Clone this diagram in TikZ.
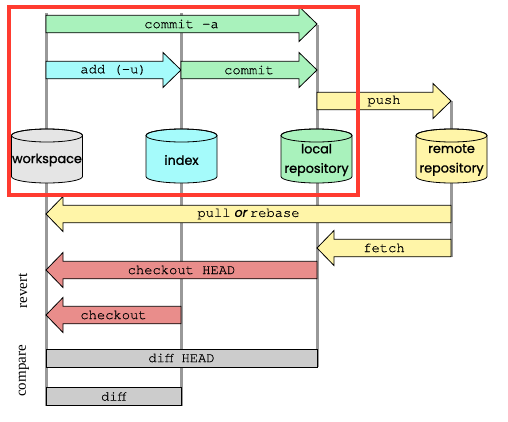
\documentclass[tikz,border=0pt]{standalone}
\usepackage{fontspec}
\setmainfont{Liberation Serif}
\setmonofont{TeX Gyre Cursor}[FakeBold=0.4]
\newfontfamily\cylfont{Poppins}[FakeBold=1.2]
\newfontfamily\orfont{Poppins}[FakeSlant=0.2, FakeBold=0.8]
\definecolor{cgreen}{HTML}{A9F2BC}
\definecolor{ccyan}{HTML}{A5FBFB}
\definecolor{cyellow}{HTML}{FFF5A8}
\definecolor{cred}{HTML}{E98D8B}
\definecolor{cgray}{HTML}{CCCCCC}
\definecolor{cws}{HTML}{E5E5E5}
\definecolor{cline}{HTML}{999999}
\definecolor{cframe}{HTML}{FF3B30}
\tikzset{
  bartext/.style={inner sep=0pt, font=\ttfamily\fontsize{13.8}{16}\selectfont},
  cyltext/.style={inner sep=0pt, align=center, font=\cylfont\fontsize{12.8}{19.5}\selectfont},
  sidetext/.style={inner sep=0pt, rotate=90, font=\fontsize{15}{17}\selectfont},
  shapeline/.style={draw=black, line width=0.8pt},
  lifeline/.style={draw=cline, line width=3pt},
}
\newcommand\RArrow[6]{%
  \path[shapeline, fill=#5] (#3,#2-8.75) -- (#4-18,#2-8.75) -- (#4-18,#2-17.5) -- (#4,#2) -- (#4-18,#2+17.5) -- (#4-18,#2+8.75) -- (#3,#2+8.75) -- cycle;
  \node[bartext] (#1) at ({(#3+#4)/2},#2) {#6};
}
\newcommand\LArrow[6]{%
  \path[shapeline, fill=#5] (#4,#2-8.75) -- (#3+17,#2-8.75) -- (#3+17,#2-17.5) -- (#3,#2) -- (#3+17,#2+17.5) -- (#3+17,#2+8.75) -- (#4,#2+8.75) -- cycle;
  \node[bartext] (#1) at ({(#3+#4)/2},#2) {#6};
}
\newcommand\BarBox[6]{%
  \path[shapeline, fill=#5] (#3,#2-9) rectangle (#4,#2+9);
  \node[bartext] (#1) at ({(#3+#4)/2},#2) {#6};
}
\newcommand\Cyl[4]{%
  \path[shapeline, fill=#3] (#2-35.5,135.5) -- (#2-35.5,176.5)
     arc[start angle=180, end angle=0, x radius=35.5, y radius=6.5]
     -- (#2+35.5,135.5)
     arc[start angle=0, end angle=-180, x radius=35.5, y radius=6.5] -- cycle;
  \path[shapeline] (#2,135.5) ellipse[x radius=35.5, y radius=6.5];
  \node[cyltext] (#1) at (#2,160) {#4};
}
\begin{document}
\begin{tikzpicture}[x=1pt, y=-1pt]
\useasboundingbox (0,0) rectangle (508,421);
% lifelines
\coordinate (wsT) at (46,13);  \coordinate (wsB) at (46,406);
\coordinate (ixT) at (181,13); \coordinate (ixB) at (181,406);
\coordinate (lrT) at (317,25); \coordinate (lrB) at (317,367);
\coordinate (rrT) at (451,101); \coordinate (rrB) at (451,257);
\draw[lifeline] (wsT) -- (wsB);
\draw[lifeline] (ixT) -- (ixB);
\draw[lifeline] (lrT) -- (lrB);
\draw[lifeline] (rrT) -- (rrB);
% right arrows
\RArrow{commita}{24}{46}{317}{cgreen}{commit -a}
\RArrow{add}{70}{46}{181}{ccyan}{add (-u)}
\RArrow{commit}{70}{181}{317}{cgreen}{commit}
\RArrow{push}{101}{317}{451}{cyellow}{push}
% cylinders
\Cyl{workspace}{47}{cws}{workspace}
\Cyl{index}{181.5}{ccyan}{index}
\Cyl{local}{316.5}{cgreen}{local\\repository}
\Cyl{remote}{451.5}{cyellow}{remote\\repository}
% left arrows
\LArrow{pull}{214}{46}{451}{cyellow}{pull{\orfont\fontsize{12.5}{14}\selectfont\ or\ }rebase}
\LArrow{fetch}{248}{317}{451}{cyellow}{fetch}
\LArrow{checkoutH}{270}{46}{317}{cred}{checkout HEAD}
\LArrow{checkout}{315}{46}{181}{cred}{checkout}
% boxes
\BarBox{diffH}{358}{46}{317}{cgray}{diff HEAD}
\BarBox{diff}{396.5}{46}{181}{cgray}{diff}
% side labels
\node[sidetext] (revert) at (23,291) {revert};
\node[sidetext] (compare) at (24,371) {compare};
% frame
\draw[cframe, line width=4pt] (9,7) rectangle (358,195);
\end{tikzpicture}
\end{document}
